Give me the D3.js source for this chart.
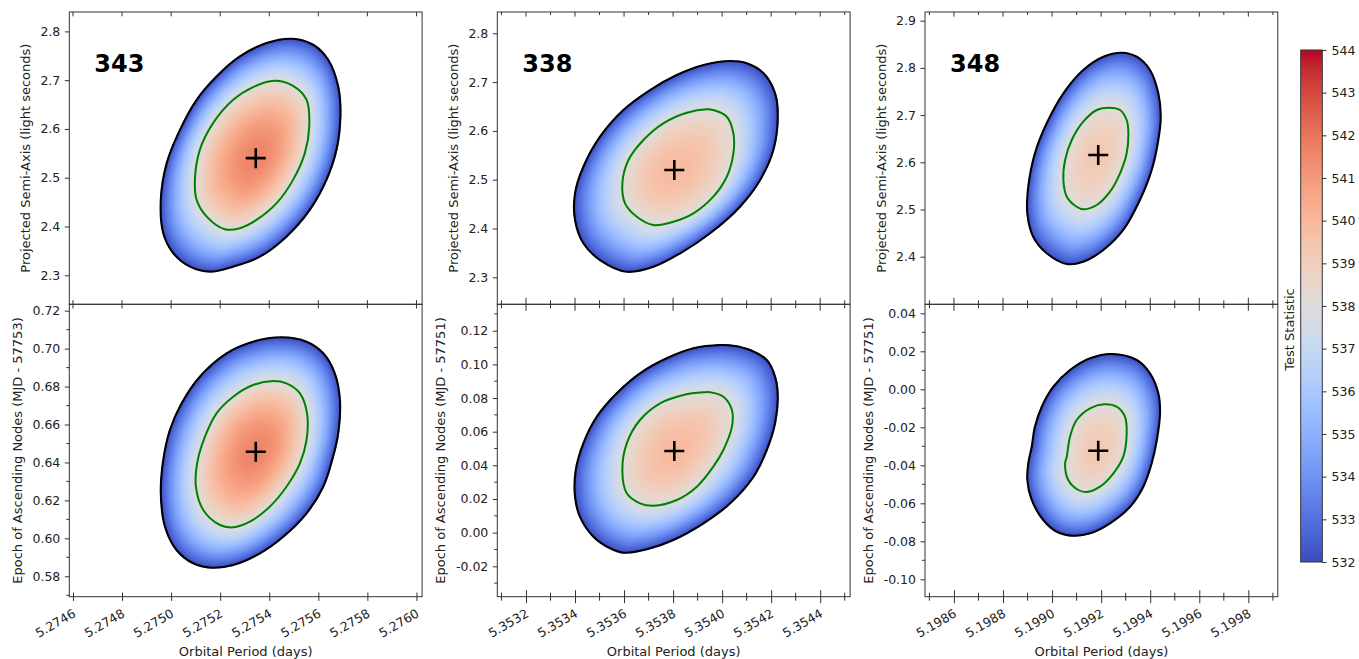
<!DOCTYPE html>
<html><head><meta charset="utf-8">
<script src="https://cdn.jsdelivr.net/npm/d3@7"></script>
<style>body{margin:0;background:#fff;} svg{display:block;}</style>
</head><body><div id="chart"></div>
<script>
// ---------------- DATA ----------------
const sources = ["343", "338", "348"];
const epochRefs = ["57753", "57751", "57751"];

const periodDomains = [[5.274585, 5.276023], [5.353083, 5.354522], [5.198482, 5.199920]];
const axisDomains   = [[2.2405, 2.8398], [2.24467, 2.84365], [2.29915, 2.91843]];
const epochDomains  = [[0.56924, 0.72337], [-0.03806, 0.13569], [-0.10916, 0.04474]];

const periodTicks = [
  [5.2746, 5.2748, 5.2750, 5.2752, 5.2754, 5.2756, 5.2758, 5.2760],
  [5.3532, 5.3534, 5.3536, 5.3538, 5.3540, 5.3542, 5.3544],
  [5.1986, 5.1988, 5.1990, 5.1992, 5.1994, 5.1996, 5.1998]
];
const periodMinorTicks = [
  [],
  [5.3531, 5.3533, 5.3535, 5.3537, 5.3539, 5.3541, 5.3543, 5.3545],
  [5.1985, 5.1987, 5.1989, 5.1991, 5.1993, 5.1995, 5.1997, 5.1999]
];
const axisTicks = [
  [2.3, 2.4, 2.5, 2.6, 2.7, 2.8],
  [2.3, 2.4, 2.5, 2.6, 2.7, 2.8],
  [2.4, 2.5, 2.6, 2.7, 2.8, 2.9]
];
const epochTicks = [
  [0.58, 0.60, 0.62, 0.64, 0.66, 0.68, 0.70, 0.72],
  [-0.02, 0.00, 0.02, 0.04, 0.06, 0.08, 0.10, 0.12],
  [-0.10, -0.08, -0.06, -0.04, -0.02, 0.00, 0.02, 0.04]
];
const epochMinorTicks = [
  [0.57, 0.59, 0.61, 0.63, 0.65, 0.67, 0.69, 0.71],
  [-0.03, -0.01, 0.01, 0.03, 0.05, 0.07, 0.09, 0.11, 0.13],
  [-0.09, -0.07, -0.05, -0.03, -0.01, 0.01, 0.03]
];

// best-fit points
const bestPeriod = [5.275345, 5.353805, 5.199188];
const bestAxis   = [2.5401, 2.5199, 2.6155];
const bestEpoch  = [0.64567, 0.04852, -0.03232];
// peak test statistic in each grid
const peakTS = [541.6, 539.9, 539.3];
// contour levels
const outerLevel = 532;
const innerLevel = 538;

// contours: [period, value]
const src343AxisOuter = [[5.275491,2.7850],[5.275389,2.7762],[5.275280,2.7487],[5.275185,2.7076],[5.275104,2.6598],[5.275036,2.5982],[5.274982,2.5299],[5.274958,2.4546],[5.274968,2.3862],[5.275009,2.3452],[5.275077,2.3177],[5.275158,2.3074],[5.275253,2.3177],[5.275362,2.3382],[5.275470,2.3792],[5.275565,2.4340],[5.275633,2.4956],[5.275674,2.5572],[5.275690,2.6255],[5.275681,2.6871],[5.275640,2.7419],[5.275579,2.7727]];
const src343AxisInner = [[5.275420,2.6988],[5.275334,2.6859],[5.275253,2.6598],[5.275171,2.6120],[5.275117,2.5572],[5.275097,2.4956],[5.275104,2.4546],[5.275145,2.4203],[5.275219,2.3944],[5.275280,2.3965],[5.275348,2.4135],[5.275430,2.4478],[5.275497,2.4956],[5.275545,2.5504],[5.275563,2.6050],[5.275552,2.6598],[5.275497,2.6885]];
const src343EpochOuter = [[5.275450,0.70598],[5.275334,0.70366],[5.275226,0.69754],[5.275117,0.68521],[5.275043,0.67119],[5.274995,0.65711],[5.274968,0.64130],[5.274958,0.62374],[5.274975,0.60614],[5.275022,0.59385],[5.275090,0.58684],[5.275165,0.58452],[5.275253,0.58595],[5.275362,0.59211],[5.275457,0.60086],[5.275552,0.61320],[5.275620,0.62722],[5.275660,0.64304],[5.275681,0.65537],[5.275688,0.67293],[5.275667,0.68700],[5.275620,0.69754],[5.275552,0.70366]];
const src343EpochInner = [[5.275416,0.68294],[5.275334,0.68083],[5.275253,0.67467],[5.275185,0.66591],[5.275138,0.65358],[5.275106,0.63956],[5.275101,0.62722],[5.275131,0.61494],[5.275199,0.60703],[5.275253,0.60582],[5.275321,0.60877],[5.275402,0.61668],[5.275470,0.62722],[5.275525,0.63956],[5.275552,0.65184],[5.275554,0.66591],[5.275525,0.67646],[5.275470,0.68173]];

const src338AxisOuter = [[5.354033,2.7432],[5.353924,2.7350],[5.353815,2.7145],[5.353706,2.6838],[5.353597,2.6428],[5.353502,2.5881],[5.353434,2.5266],[5.353400,2.4721],[5.353400,2.4174],[5.353434,2.3697],[5.353502,2.3354],[5.353611,2.3115],[5.353720,2.3217],[5.353829,2.3492],[5.353951,2.3902],[5.354073,2.4447],[5.354155,2.4994],[5.354209,2.5609],[5.354227,2.6291],[5.354216,2.6770],[5.354169,2.7180],[5.354101,2.7385]];
const src338AxisInner = [[5.353938,2.6443],[5.353856,2.6373],[5.353760,2.6156],[5.353679,2.5814],[5.353618,2.5404],[5.353593,2.4926],[5.353604,2.4516],[5.353652,2.4242],[5.353720,2.4072],[5.353801,2.4139],[5.353883,2.4311],[5.353964,2.4652],[5.354019,2.5061],[5.354046,2.5541],[5.354046,2.5951],[5.354019,2.6291],[5.353964,2.6428]];
const src338EpochOuter = [[5.353992,0.11150],[5.353883,0.10954],[5.353774,0.10360],[5.353665,0.09469],[5.353570,0.08280],[5.353489,0.06890],[5.353434,0.05309],[5.353403,0.03723],[5.353400,0.02136],[5.353420,0.00948],[5.353475,-0.00241],[5.353543,-0.00930],[5.353597,-0.01191],[5.353693,-0.00990],[5.353801,-0.00437],[5.353924,0.00555],[5.354033,0.01744],[5.354128,0.03324],[5.354182,0.04911],[5.354216,0.06498],[5.354227,0.08078],[5.354216,0.09267],[5.354182,0.10259],[5.354114,0.10853],[5.354046,0.11109]];
const src338EpochInner = [[5.353924,0.08340],[5.353842,0.08179],[5.353747,0.07686],[5.353665,0.06694],[5.353611,0.05309],[5.353593,0.03723],[5.353611,0.02338],[5.353665,0.01744],[5.353720,0.01601],[5.353815,0.01940],[5.353897,0.02730],[5.353964,0.03919],[5.354005,0.04911],[5.354040,0.06296],[5.354040,0.07288],[5.354005,0.08078],[5.353951,0.08340]];

const src348AxisOuter = [[5.199284,2.8322],[5.199209,2.8237],[5.199127,2.7956],[5.199046,2.7462],[5.198978,2.6826],[5.198930,2.6191],[5.198903,2.5483],[5.198899,2.4920],[5.198923,2.4424],[5.198978,2.4072],[5.199060,2.3845],[5.199127,2.3894],[5.199209,2.4142],[5.199290,2.4566],[5.199358,2.5201],[5.199406,2.5837],[5.199433,2.6472],[5.199443,2.6966],[5.199433,2.7462],[5.199399,2.7956],[5.199345,2.8237]];
const src348AxisInner = [[5.199233,2.7157],[5.199182,2.7108],[5.199127,2.6860],[5.199080,2.6472],[5.199053,2.6049],[5.199046,2.5625],[5.199060,2.5271],[5.199100,2.5059],[5.199127,2.5004],[5.199182,2.5095],[5.199236,2.5377],[5.199277,2.5767],[5.199304,2.6191],[5.199311,2.6614],[5.199304,2.6896],[5.199277,2.7108]];
const src348EpochOuter = [[5.199243,0.01858],[5.199155,0.01632],[5.199073,0.01016],[5.199005,0.00137],[5.198958,-0.00916],[5.198930,-0.01968],[5.198917,-0.03021],[5.198903,-0.03895],[5.198899,-0.04774],[5.198917,-0.05826],[5.198964,-0.06879],[5.199019,-0.07495],[5.199086,-0.07705],[5.199155,-0.07579],[5.199236,-0.07053],[5.199318,-0.06179],[5.199372,-0.05126],[5.199406,-0.03895],[5.199427,-0.02668],[5.199440,-0.01263],[5.199433,-0.00211],[5.199399,0.00842],[5.199345,0.01542]];
const src348EpochInner = [[5.199212,-0.00789],[5.199155,-0.01000],[5.199100,-0.01616],[5.199073,-0.02495],[5.199060,-0.03547],[5.199053,-0.03895],[5.199066,-0.04774],[5.199107,-0.05300],[5.199141,-0.05405],[5.199195,-0.05126],[5.199250,-0.04421],[5.199290,-0.03547],[5.199304,-0.02316],[5.199297,-0.01442],[5.199263,-0.00916]];

const axisOuter = [src343AxisOuter, src338AxisOuter, src348AxisOuter];
const axisInner = [src343AxisInner, src338AxisInner, src348AxisInner];
const epochOuter = [src343EpochOuter, src338EpochOuter, src348EpochOuter];
const epochInner = [src343EpochInner, src338EpochInner, src348EpochInner];

const cbDomain = [532, 544];
const cbTicks = [532, 533, 534, 535, 536, 537, 538, 539, 540, 541, 542, 543, 544];

// matplotlib coolwarm samples
const coolwarm = ["#3b4cc0","#445acc","#4d68d7","#5775e1","#6282ea","#6c8ef1","#779af7","#82a5fb","#8db0fe","#98b9ff","#a3c2ff","#aec9fd","#b8d0f9","#c2d5f4","#ccd9ee","#d5dbe6","#dddddd","#e5d8d1","#ecd3c5","#f1ccb9","#f5c4ad","#f7bba0","#f7b194","#f7a687","#f49a7b","#f18d6f","#ec7f63","#e57058","#de604d","#d55042","#cb3e38","#c0282f","#b40426"];

// ---------------- LAYOUT ----------------
const W = 1359, H = 659;
const FONT = "DejaVu Sans, sans-serif";
const colLeft = [69.3, 497.3, 925];
const PW = 352.8;
const TOP = 12, MID = 304.3, BOT = 596.7;
const INK = "#222";
const SPINE = "#333";

const svg = d3.select("#chart").append("svg").attr("width", W).attr("height", H)
  .attr("font-family", FONT);
svg.append("rect").attr("width", W).attr("height", H).attr("fill", "#fff");

const color = d3.scaleLinear()
  .domain(coolwarm.map((_, i) => cbDomain[0] + i / (coolwarm.length - 1) * (cbDomain[1] - cbDomain[0])))
  .range(coolwarm).clamp(true);

const contourLine = (x, y) => d3.line().x(d => x(d[0])).y(d => y(d[1])).curve(d3.curveCatmullRomClosed.alpha(0.5));

function samplePath(node) {
  const L = node.getTotalLength(); const pts = [];
  for (let s = 0; s < L; s += 0.75) { const p = node.getPointAtLength(s); pts.push([p.x, p.y]); }
  return pts;
}
function radialTable(pts, cx, cy, N) {
  const tbl = new Float64Array(N);
  for (let k = 0; k < N; k++) {
    const th = k / N * 2 * Math.PI, dx = Math.cos(th), dy = Math.sin(th);
    let best = 0;
    for (let i = 0; i < pts.length; i++) {
      const p = pts[i], q = pts[(i + 1) % pts.length];
      const ex = q[0] - p[0], ey = q[1] - p[1];
      const den = dx * ey - dy * ex;
      if (Math.abs(den) < 1e-12) continue;
      const wx = p[0] - cx, wy = p[1] - cy;
      const t = (wx * ey - wy * ex) / den;
      const u = (wx * dy - wy * dx) / den;
      if (t > 0 && u >= -1e-9 && u <= 1 + 1e-9 && t > best) best = t;
    }
    tbl[k] = best;
  }
  return tbl;
}
function lookup(tbl, th) {
  const N = tbl.length;
  let f = th / (2 * Math.PI) * N; f = ((f % N) + N) % N;
  const i0 = Math.floor(f), fr = f - i0;
  return tbl[i0] * (1 - fr) + tbl[(i0 + 1) % N] * fr;
}

function drawPanel(x, y, y0, y1, outer, inner, bx, by, peak) {
  const g = svg.append("g");
  const gImg = g.append("g");
  const line = contourLine(x, y);
  const pOuter = g.append("path").attr("d", line(outer)).attr("fill", "none")
    .attr("stroke", "#000").attr("stroke-width", 2.1);
  const pInner = g.append("path").attr("d", line(inner)).attr("fill", "none")
    .attr("stroke", "#008000").attr("stroke-width", 2);
  const cx = x(bx), cy = y(by);
  const N = 1440;
  const tOut = radialTable(samplePath(pOuter.node()), cx, cy, N);
  const tIn = radialTable(samplePath(pInner.node()), cx, cy, N);
  const x0 = x.range()[0], w = x.range()[1] - x0;
  const cw = Math.ceil(w), ch = Math.ceil(y1 - y0);
  const canvas = document.createElement("canvas");
  canvas.width = cw; canvas.height = ch;
  const ctx = canvas.getContext("2d");
  const img = ctx.createImageData(cw, ch);
  for (let j = 0; j < ch; j++) {
    for (let i = 0; i < cw; i++) {
      const px = x0 + i + 0.5, py = y0 + j + 0.5;
      const dx = px - cx, dy = py - cy;
      const r = Math.hypot(dx, dy);
      const th = Math.atan2(dy, dx);
      const ro = lookup(tOut, th), rg = lookup(tIn, th);
      if (r > ro + 0.5) continue;
      let v;
      if (r <= rg) { const t = r / rg; v = peak - (peak - innerLevel) * t * t; }
      else { const s = (r * r - rg * rg) / (ro * ro - rg * rg); v = innerLevel - (innerLevel - outerLevel) * Math.min(1, s); }
      const c = d3.rgb(color(v));
      const k = (j * cw + i) * 4;
      img.data[k] = c.r; img.data[k + 1] = c.g; img.data[k + 2] = c.b; img.data[k + 3] = 255;
    }
  }
  ctx.putImageData(img, 0, 0);
  gImg.append("image").attr("x", x0).attr("y", y0).attr("width", cw).attr("height", ch)
    .attr("preserveAspectRatio", "none").attr("href", canvas.toDataURL());
  // best-fit marker
  g.append("path").attr("d", `M${cx - 10},${cy}H${cx + 10}M${cx},${cy - 10}V${cy + 10}`)
    .attr("stroke", "#000").attr("stroke-width", 2.6).attr("fill", "none");
}

function tickLines(vals, x1f, x2f, y1f, y2f) {
  svg.append("g").selectAll("line").data(vals).join("line")
    .attr("x1", x1f).attr("x2", x2f).attr("y1", y1f).attr("y2", y2f)
    .attr("stroke", SPINE).attr("stroke-width", 1);
}

for (let c = 0; c < 3; c++) {
  const L = colLeft[c];
  const x = d3.scaleLinear().domain(periodDomains[c]).range([L, L + PW]);
  const yA = d3.scaleLinear().domain(axisDomains[c]).range([MID, TOP]);
  const yT = d3.scaleLinear().domain(epochDomains[c]).range([BOT, MID]);

  drawPanel(x, yA, TOP, MID, axisOuter[c], axisInner[c], bestPeriod[c], bestAxis[c], peakTS[c]);
  drawPanel(x, yT, MID, BOT, epochOuter[c], epochInner[c], bestPeriod[c], bestEpoch[c], peakTS[c]);

  // spines
  svg.append("rect").attr("x", L).attr("y", TOP).attr("width", PW).attr("height", MID - TOP)
    .attr("fill", "none").attr("stroke", SPINE).attr("stroke-width", 1);
  svg.append("rect").attr("x", L).attr("y", MID).attr("width", PW).attr("height", BOT - MID)
    .attr("fill", "none").attr("stroke", SPINE).attr("stroke-width", 1);

  const hasMinor = periodMinorTicks[c].length > 0;
  const majBoth = hasMinor ? 6.5 : 4.2;
  const majTop = hasMinor ? 4.6 : 4.3;
  // top edge ticks (inward)
  tickLines(periodTicks[c], d => x(d), d => x(d), TOP, TOP + majTop);
  tickLines(periodMinorTicks[c], d => x(d), d => x(d), TOP, TOP + 3);
  // shared boundary ticks
  tickLines(periodTicks[c], d => x(d), d => x(d), MID - majBoth, MID + majBoth);
  tickLines(periodMinorTicks[c], d => x(d), d => x(d), MID - 4, MID + 4);
  // bottom axis with labels
  const ax = d3.axisBottom(x).tickValues(periodTicks[c]).tickFormat(d => d.toFixed(4))
    .tickSizeInner(majBoth).tickSizeOuter(0);
  const gx = svg.append("g").attr("transform", `translate(0,${BOT})`).call(ax)
    .attr("font-size", 12.5).attr("font-family", FONT).attr("color", INK);
  gx.select(".domain").remove();
  gx.selectAll(".tick line").attr("y1", -majBoth).attr("stroke", SPINE);
  gx.selectAll(".tick text").attr("y", 0).attr("dy", "0.73em").attr("text-anchor", "end")
    .attr("transform", "translate(-1.5,11.5) rotate(-30)");
  tickLines(periodMinorTicks[c], d => x(d), d => x(d), BOT - 4, BOT + 4);

  // y axes
  const gyA = svg.append("g").attr("transform", `translate(${L},0)`)
    .call(d3.axisLeft(yA).tickValues(axisTicks[c]).tickFormat(d => d.toFixed(1)).tickSizeInner(4.5).tickSizeOuter(0).tickPadding(4.5))
    .attr("font-size", 12.5).attr("font-family", FONT).attr("color", INK);
  gyA.select(".domain").remove();
  gyA.selectAll(".tick line").attr("stroke", SPINE);

  const gyT = svg.append("g").attr("transform", `translate(${L},0)`)
    .call(d3.axisLeft(yT).tickValues(epochTicks[c]).tickFormat(d => d.toFixed(2)).tickSizeInner(4.5).tickSizeOuter(0).tickPadding(4.5))
    .attr("font-size", 12.5).attr("font-family", FONT).attr("color", INK);
  gyT.select(".domain").remove();
  gyT.selectAll(".tick line").attr("stroke", SPINE);
  tickLines(epochMinorTicks[c], () => L - 3, () => L, d => yT(d), d => yT(d));

  // labels
  svg.append("text").attr("transform", `translate(${L - 43.5},${(TOP + MID) / 2}) rotate(-90)`)
    .attr("text-anchor", "middle").attr("dominant-baseline", "central")
    .attr("font-size", 13).attr("fill", INK).text("Projected Semi-Axis (light seconds)");
  const off = c === 0 ? 52 : 56.5;
  svg.append("text").attr("transform", `translate(${L - off},${(MID + BOT) / 2}) rotate(-90)`)
    .attr("text-anchor", "middle").attr("dominant-baseline", "central")
    .attr("font-size", 13).attr("fill", INK).text(`Epoch of Ascending Nodes (MJD - ${epochRefs[c]})`);
  svg.append("text").attr("x", L + PW / 2).attr("y", 655.5).attr("text-anchor", "middle")
    .attr("font-size", 13).attr("fill", INK).text("Orbital Period (days)");
  svg.append("text").attr("x", L + 25).attr("y", 71.5).attr("font-size", 24).attr("font-weight", "bold")
    .attr("fill", "#000").text(sources[c]);
}

// colorbar
const cbX = 1300.7, cbW = 21.6, cbTop = 50, cbBot = 562;
const cbScale = d3.scaleLinear().domain(cbDomain).range([cbBot, cbTop]);
const grad = svg.append("defs").append("linearGradient").attr("id", "cbgrad")
  .attr("x1", 0).attr("y1", 1).attr("x2", 0).attr("y2", 0);
grad.selectAll("stop").data(coolwarm).join("stop")
  .attr("offset", (d, i) => i / (coolwarm.length - 1)).attr("stop-color", d => d);
svg.append("rect").attr("x", cbX).attr("y", cbTop).attr("width", cbW).attr("height", cbBot - cbTop)
  .attr("fill", "url(#cbgrad)").attr("stroke", SPINE).attr("stroke-width", 1);
const gcb = svg.append("g").attr("transform", `translate(${cbX + cbW},0)`)
  .call(d3.axisRight(cbScale).tickValues(cbTicks).tickFormat(d3.format("d")).tickSizeInner(4.2).tickSizeOuter(0).tickPadding(5))
  .attr("font-size", 12.5).attr("font-family", FONT).attr("color", INK);
gcb.select(".domain").remove();
gcb.selectAll(".tick line").attr("stroke", SPINE);
svg.append("text").attr("transform", `translate(1289,329.5) rotate(-90)`)
  .attr("text-anchor", "middle").attr("dominant-baseline", "central")
  .attr("font-size", 13).attr("fill", INK).text("Test Statistic");
</script>
</body></html>
